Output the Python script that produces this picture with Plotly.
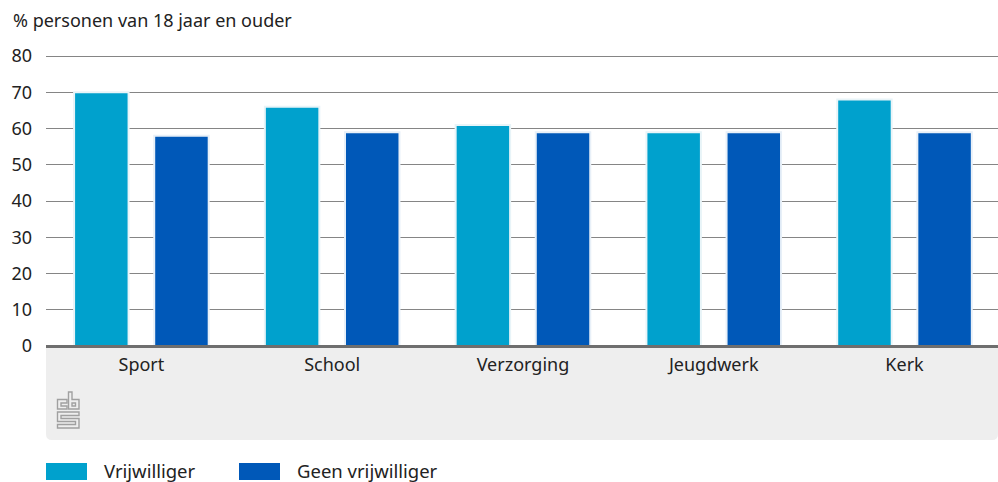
import plotly.graph_objects as go

categories = ["Sport", "School", "Verzorging", "Jeugdwerk", "Kerk"]
vrijwilliger = [70, 66, 61, 59, 68]
geen_vrijwilliger = [58, 59, 59, 59, 59]
y_ticks = [0, 10, 20, 30, 40, 50, 60, 70, 80]
y_title = "% personen van 18 jaar en ouder"

W, H = 998, 482
L, R, T, B = 46, 0, 54, 136
FONT = "Noto Sans"
FS = 18
TXT = "#222222"
C1, C2 = "#00a1cd", "#0058b8"

def fx(p): return (p - L) / (W - L - R)
def fy(p): return 1 - (p - T) / (H - T - B)

fig = go.Figure()
fig.add_bar(name="Vrijwilliger", x=categories, y=vrijwilliger, marker_color=C1,
            marker_line=dict(color="#e8f4f8", width=2), showlegend=False)
fig.add_bar(name="Geen vrijwilliger", x=categories, y=geen_vrijwilliger, marker_color=C2,
            marker_line=dict(color="#e8f0f8", width=2), showlegend=False)

def path(pts, close=False):
    return "M " + " L ".join(f"{fx(x):.5f},{fy(y):.5f}" for x, y in pts) + (" Z" if close else "")

shapes = []
# grey panel with rounded bottom corners
r = 6
panel = (f"M {fx(46):.5f},{fy(346):.5f} L {fx(998):.5f},{fy(346):.5f} L {fx(998):.5f},{fy(440-r):.5f} "
         f"Q {fx(998):.5f},{fy(440):.5f} {fx(998-r):.5f},{fy(440):.5f} L {fx(46+r):.5f},{fy(440):.5f} "
         f"Q {fx(46):.5f},{fy(440):.5f} {fx(46):.5f},{fy(440-r):.5f} Z")
shapes.append(dict(type="path", path=panel, xref="paper", yref="paper", fillcolor="#eeeeee",
                   line_width=0, layer="below"))
# baseline
shapes.append(dict(type="line", xref="paper", yref="paper", x0=0, x1=1, y0=fy(346.5), y1=fy(346.5),
                   line=dict(color="#6e6e6e", width=3)))
# logo
logo = [
    [(67, 399.5), (57.5, 399.5), (57.5, 409), (67, 409), (67, 406), (61, 406), (61, 403), (67, 403)],
    [(68.5, 392), (72, 392), (72, 399.5), (79, 399.5), (79, 409), (68.5, 409)],
    [(72, 403), (75.5, 403), (75.5, 406), (72, 406)],
    [(57.5, 412), (79, 412), (79, 415.5), (61, 415.5), (61, 418.5), (79, 418.5), (79, 428),
     (57.5, 428), (57.5, 424.5), (75.5, 424.5), (75.5, 421.5), (57.5, 421.5)],
]
for seg in logo:
    shapes.append(dict(type="path", path=path(seg, close=True), xref="paper", yref="paper",
                       line=dict(color="#a0a0a0", width=1.4), fillcolor="rgba(0,0,0,0)"))
# legend swatches
for x0, x1, c in [(46, 87, C1), (239, 280, C2)]:
    shapes.append(dict(type="rect", xref="paper", yref="paper", x0=fx(x0), x1=fx(x1),
                       y0=fy(463), y1=fy(480), fillcolor=c, line_width=0))

annots = [
    dict(text=y_title, x=fx(11), y=fy(20), xanchor="left", yanchor="middle", font=dict(family=FONT, size=FS, color=TXT)),
    dict(text=fig.data[0].name, x=fx(102), y=fy(470.5), xanchor="left", yanchor="middle", font=dict(family=FONT, size=18.5, color=TXT)),
    dict(text=fig.data[1].name, x=fx(295), y=fy(470.5), xanchor="left", yanchor="middle", font=dict(family=FONT, size=18.5, color=TXT)),
]
for a in annots:
    a.update(xref="paper", yref="paper", showarrow=False)

fig.update_layout(
    width=W, height=H, autosize=False,
    margin=dict(l=L, r=R, t=T, b=B, pad=0),
    paper_bgcolor="white", plot_bgcolor="rgba(0,0,0,0)",
    barmode="group", bargap=0.16, bargroupgap=0.32,
    font=dict(family=FONT, size=FS, color=TXT),
    shapes=shapes, annotations=annots,
    xaxis=dict(range=[-0.5, 4.49], showgrid=False, zeroline=False, showline=False, ticks="",
               tickfont=dict(size=FS), ticklabelstandoff=6),
    yaxis=dict(range=[0, 80.5625], tickvals=y_ticks, showgrid=True, gridcolor="#858585", gridwidth=1,
               zeroline=False, showline=False, ticks="", tickfont=dict(size=FS), ticklabelstandoff=13),
)
fig.write_html("out.html", config=dict(displayModeBar=False),
               post_script="document.body.style.margin='0';document.documentElement.style.overflow='hidden';")
